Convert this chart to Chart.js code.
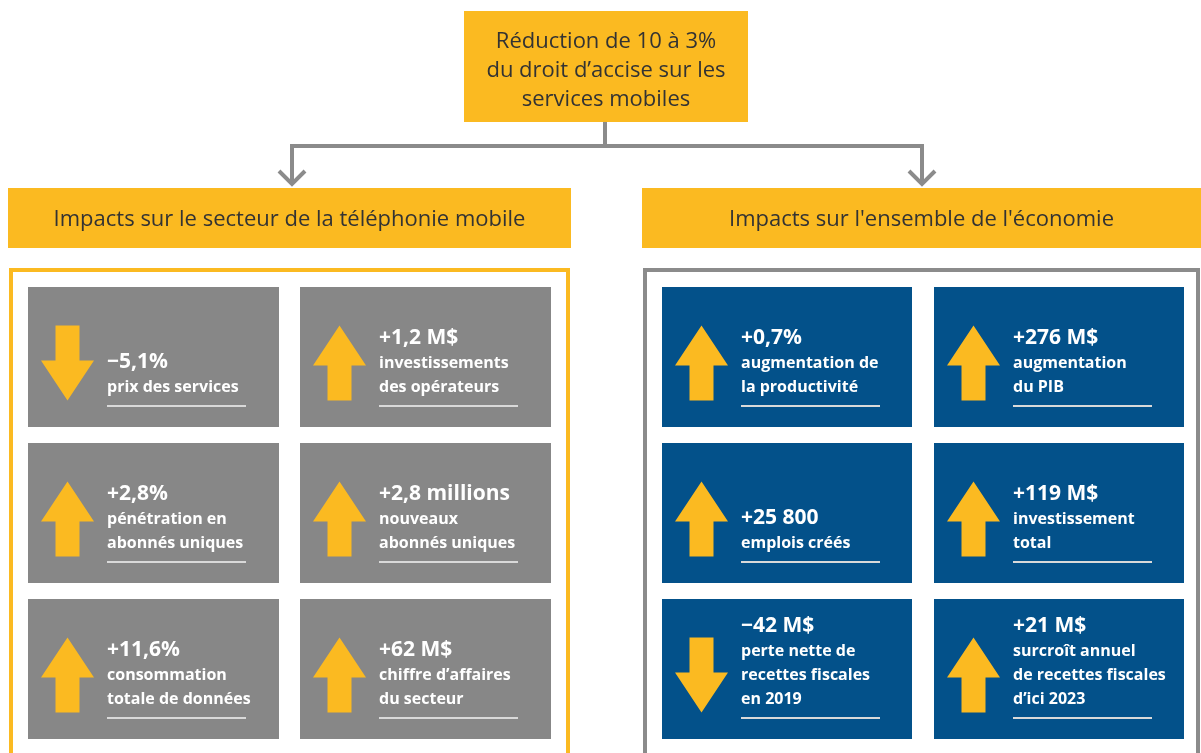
<!DOCTYPE html>
<html><head><meta charset="utf-8">
<script src="https://cdn.jsdelivr.net/npm/chart.js@4.4.1/dist/chart.umd.min.js"></script>
<style>html,body{margin:0;padding:0;background:#fff}#wrap{width:1201px;height:753px;position:relative}</style>
</head><body><div id="wrap"><canvas id="c"></canvas></div>
<script>
// ---- content ----
const titleLines = ['Réduction de 10 à 3%', 'du droit d’accise sur les', 'services mobiles'];
const groupTitles = ['Impacts sur le secteur de la téléphonie mobile', 'Impacts sur l\'ensemble de l\'économie'];
const sectorValues = [-5.1, 1.2, 2.8, 2.8, 11.6, 62];
const sectorValueLabels = ['−5,1%', '+1,2 M$', '+2,8%', '+2,8 millions', '+11,6%', '+62 M$'];
const sectorDescriptions = [['prix des services'], ['investissements', 'des opérateurs'], ['pénétration en', 'abonnés uniques'], ['nouveaux', 'abonnés uniques'], ['consommation', 'totale de données'], ['chiffre d’affaires', 'du secteur']];
const economyValues = [0.7, 276, 25800, 119, -42, 21];
const economyValueLabels = ['+0,7%', '+276 M$', '+25 800', '+119 M$', '−42 M$', '+21 M$'];
const economyDescriptions = [['augmentation de', 'la productivité'], ['augmentation', 'du PIB'], ['emplois créés'], ['investissement', 'total'], ['perte nette de', 'recettes fiscales', 'en 2019'], ['surcroît annuel', 'de recettes fiscales', 'd’ici 2023']];

// ---- styles / layout ----
const YELLOW = '#FBBA21', GREY_TILE = '#878787', BLUE = '#03518A', LINE_GREY = '#8B8B8B', DARK = '#333333';
const LIGHT_FONT = '"Open Sans", "Lato", sans-serif';
const BOLD_FONT = '"Open Sans", "Lato", sans-serif';

const groups = [
  { values: sectorValues, labels: sectorValueLabels, desc: sectorDescriptions, tile: GREY_TILE, border: YELLOW, x0: 8, x1: 571, tileX: [28, 300], tileW: 251 },
  { values: economyValues, labels: economyValueLabels, desc: economyDescriptions, tile: BLUE, border: LINE_GREY, x0: 642, x1: 1201, tileX: [662, 934], tileW: 250 }
];
const rowTop = [287, 443, 599], tileH = 140;

const diagram = {
  id: 'diagram',
  beforeDatasetsDraw(chart) {
    const ctx = chart.ctx, sx = chart.scales.x, sy = chart.scales.y;
    const X = v => sx.getPixelForValue(v), Y = v => sy.getPixelForValue(v);
    const rect = (x0, y0, x1, y1, c) => { ctx.fillStyle = c; ctx.fillRect(X(x0), Y(y0), X(x1) - X(x0), Y(y1) - Y(y0)); };
    ctx.save();
    // top box
    rect(464, 11, 748, 122, YELLOW);
    ctx.fillStyle = DARK; ctx.textAlign = 'center'; ctx.textBaseline = 'alphabetic';
    ctx.font = '400 22px ' + LIGHT_FONT;
    titleLines.forEach((t, i) => ctx.fillText(t, X(606), Y(48 + i * 29)));
    // connectors
    ctx.strokeStyle = LINE_GREY; ctx.lineWidth = 4; ctx.lineCap = 'butt'; ctx.lineJoin = 'miter';
    ctx.beginPath();
    ctx.moveTo(X(605), Y(122)); ctx.lineTo(X(605), Y(146));
    ctx.moveTo(X(290), Y(146)); ctx.lineTo(X(924), Y(146));
    [292, 922].forEach(cx => { ctx.moveTo(X(cx), Y(144)); ctx.lineTo(X(cx), Y(183)); });
    ctx.stroke();
    [292, 922].forEach(cx => {
      ctx.beginPath(); ctx.moveTo(X(cx - 13), Y(171)); ctx.lineTo(X(cx), Y(184)); ctx.lineTo(X(cx + 13), Y(171)); ctx.stroke();
    });
    groups.forEach((g, gi) => {
      // header
      rect(g.x0, 188, g.x1, 248, YELLOW);
      ctx.fillStyle = DARK; ctx.textAlign = 'center'; ctx.font = '400 22px ' + LIGHT_FONT;
      ctx.fillText(groupTitles[gi], X((g.x0 + g.x1) / 2), Y(226));
      // panel border
      ctx.strokeStyle = g.border; ctx.lineWidth = 4;
      ctx.beginPath();
      ctx.moveTo(X(g.x0 + 3), Y(760)); ctx.lineTo(X(g.x0 + 3), Y(270)); ctx.lineTo(X(g.x1 - 3), Y(270)); ctx.lineTo(X(g.x1 - 3), Y(760));
      ctx.stroke();
      // tiles
      g.values.forEach((v, i) => {
        const tx = g.tileX[i % 2], ty = rowTop[Math.floor(i / 2)];
        rect(tx, ty, tx + g.tileW, ty + tileH, g.tile);
        // arrow
        const ax = tx + 39.5, mid = ty + tileH / 2 + 6, half = 37.5;
        ctx.fillStyle = YELLOW; ctx.beginPath();
        if (v >= 0) {
          const tip = mid - half, base = tip + 40, bot = mid + half;
          ctx.moveTo(X(ax), Y(tip)); ctx.lineTo(X(ax + 26.5), Y(base)); ctx.lineTo(X(ax + 12), Y(base)); ctx.lineTo(X(ax + 12), Y(bot));
          ctx.lineTo(X(ax - 12), Y(bot)); ctx.lineTo(X(ax - 12), Y(base)); ctx.lineTo(X(ax - 26.5), Y(base));
        } else {
          const tip = mid + half, base = tip - 40, top = mid - half;
          ctx.moveTo(X(ax), Y(tip)); ctx.lineTo(X(ax + 26.5), Y(base)); ctx.lineTo(X(ax + 12), Y(base)); ctx.lineTo(X(ax + 12), Y(top));
          ctx.lineTo(X(ax - 12), Y(top)); ctx.lineTo(X(ax - 12), Y(base)); ctx.lineTo(X(ax - 26.5), Y(base));
        }
        ctx.closePath(); ctx.fill();
        // texts (bottom-aligned)
        const lines = g.desc[i], tx0 = tx + 79, lastBase = ty + 105;
        ctx.fillStyle = '#ffffff'; ctx.textAlign = 'left';
        ctx.font = '700 16px ' + BOLD_FONT;
        lines.forEach((l, k) => ctx.fillText(l, X(tx0), Y(lastBase - (lines.length - 1 - k) * 24)));
        ctx.font = '700 21px ' + BOLD_FONT;
        ctx.fillText(g.labels[i], X(tx0), Y(lastBase - lines.length * 24));
        // underline
        rect(tx0, ty + 118, tx0 + 139, ty + 120, '#d9d9d9');
      });
    });
    ctx.restore();
  }
};

new Chart(document.getElementById('c'), {
  type: 'scatter',
  data: { datasets: [] },
  options: {
    responsive: true, maintainAspectRatio: false, animation: false,
    layout: { padding: 0 },
    plugins: { legend: { display: false }, tooltip: { enabled: false } },
    scales: {
      x: { type: 'linear', min: 0, max: 1201, display: false },
      y: { type: 'linear', min: 0, max: 753, reverse: true, display: false }
    }
  },
  plugins: [diagram]
});
</script></body></html>
